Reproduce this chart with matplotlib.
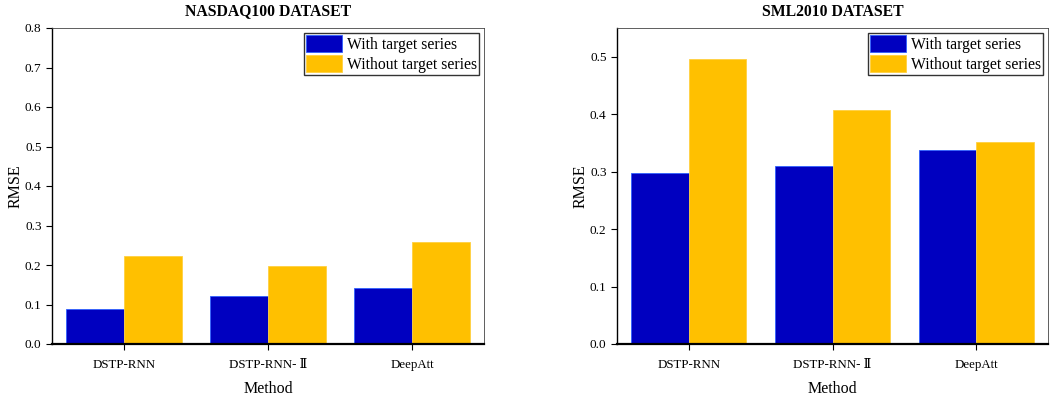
import numpy as np
import matplotlib.pyplot as plt

plt.rcParams['font.family'] = ['Liberation Serif', 'DejaVu Serif']

methods = ['DSTP-RNN', 'DSTP-RNN- Ⅱ', 'DeepAtt']
series = ['With target series', 'Without target series']

nasdaq_with = [0.089, 0.121, 0.142]
nasdaq_without = [0.223, 0.198, 0.258]
sml_with = [0.297, 0.309, 0.337]
sml_without = [0.496, 0.407, 0.351]

blue = '#0000C0'
orange = '#FFC000'

fig = plt.figure(figsize=(10.51, 4.01), dpi=100)
ax1 = fig.add_axes([52 / 1051, 1 - 344 / 401, 432 / 1051, 316 / 401])
ax2 = fig.add_axes([617 / 1051, 1 - 344 / 401, 431 / 1051, 316 / 401])

x = np.arange(len(methods))
w = 0.4


def draw(ax, a, b, title, ylim, yticks):
    ax.bar(x - w / 2, a, w, color=blue, edgecolor='#3060FF', linewidth=0.6, label=series[0])
    ax.bar(x + w / 2, b, w, color=orange, edgecolor='#FFD040', linewidth=0.6, label=series[1])
    ax.set_xlim(-0.5, 2.5)
    ax.set_ylim(*ylim)
    ax.set_yticks(yticks)
    ax.set_yticklabels(['%.1f' % t for t in yticks])
    ax.set_xticks(x)
    ax.set_xticklabels(methods, fontsize=9.3)
    ax.tick_params(axis='y', labelsize=9.5, length=4, width=0.8)
    ax.tick_params(axis='x', length=4, width=0.8, pad=7)
    ax.set_title(title, fontsize=11.3, fontweight='bold', pad=9)
    ax.set_xlabel('Method', fontsize=11.5, labelpad=7)
    ax.set_ylabel('RMSE', fontsize=11.5, labelpad=1)
    for s in ['top', 'right']:
        ax.spines[s].set_linewidth(0.6)
        ax.spines[s].set_color('#444444')
    ax.spines['bottom'].set_linewidth(1.6)
    ax.spines['left'].set_linewidth(1.0)
    leg = ax.legend(loc='upper right', fontsize=11.3, frameon=True, fancybox=False,
                    handlelength=2.3, handleheight=1.3, handletextpad=0.3,
                    labelspacing=0.15, borderpad=0.15, borderaxespad=0.3)
    leg.get_frame().set_edgecolor('black')
    leg.get_frame().set_linewidth(1.0)


draw(ax1, nasdaq_with, nasdaq_without, 'NASDAQ100 DATASET', (0, 0.8),
     np.arange(0, 0.81, 0.1))
draw(ax2, sml_with, sml_without, 'SML2010 DATASET', (0, 0.55),
     np.arange(0, 0.51, 0.1))

fig.savefig('out.png', dpi=100)
